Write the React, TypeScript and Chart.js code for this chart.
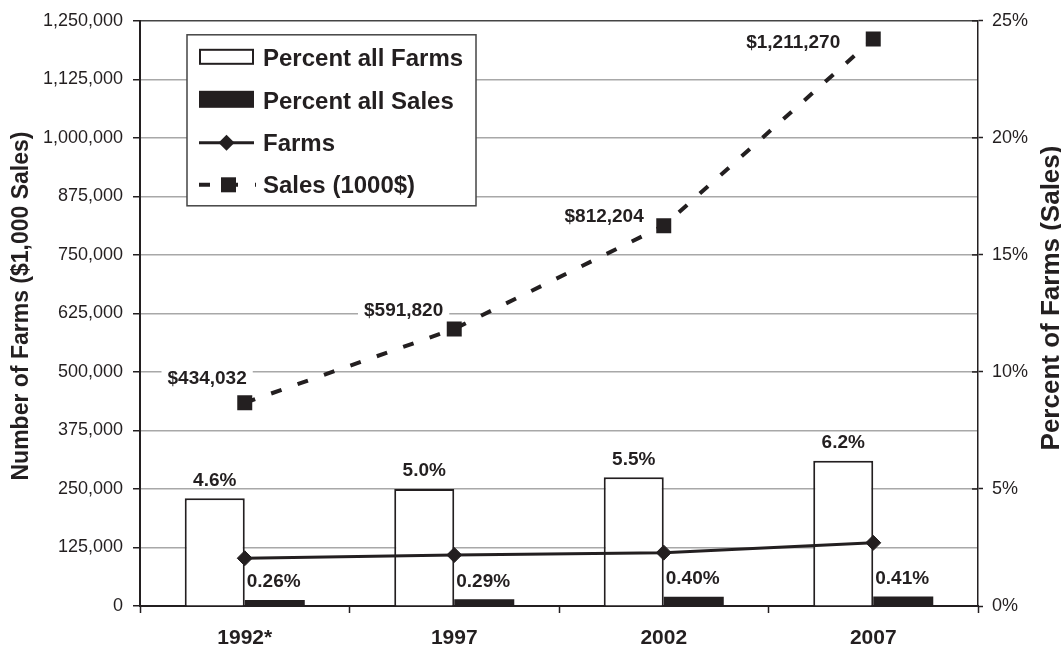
import React, { useEffect, useRef } from 'react';
import { Chart, registerables } from 'chart.js';

Chart.register(...registerables);

// ---------- data ----------
const categories = ['1992*', '1997', '2002', '2007'];
const percentFarms = [4.6, 5.0, 5.5, 6.2];
const percentSales = [0.26, 0.29, 0.4, 0.41];
const farms = [102000, 109000, 114000, 135000];
const sales = [434032, 591820, 812204, 1211270];

const leftMax = 1250000;
const leftStep = 125000;
const rightMax = 25;
const rightStep = 5;

// label placement for the sales values: [right edge dx from point, baseline dy from point]
const salesLabelOffsets = [
  [2, -19],
  [-11, -13],
  [-20, -4],
  [-33, 9],
];

const FONT = '"Liberation Sans", Arial, Helvetica, sans-serif';
const INK = '#231f20';
const GRID = '#a8a8a8';

const overlay = {
  id: 'overlay',
  afterDatasetsDraw(chart: any) {
    const ctx = chart.ctx as CanvasRenderingContext2D;
    const area = chart.chartArea;
    ctx.save();

    // inner tick marks on right axis
    const y1 = chart.scales.y1;
    ctx.strokeStyle = INK;
    ctx.lineWidth = 1.5;
    y1.ticks.forEach((t: any) => {
      const py = y1.getPixelForValue(t.value);
      ctx.beginPath();
      ctx.moveTo(area.right - 6, py);
      ctx.lineTo(area.right, py);
      ctx.stroke();
    });

    // bar value labels
    ctx.fillStyle = INK;
    ctx.font = `bold 19px ${FONT}`;
    ctx.textBaseline = 'alphabetic';
    const m0 = chart.getDatasetMeta(0);
    m0.data.forEach((bar: any, i: number) => {
      ctx.textAlign = 'center';
      ctx.fillText(percentFarms[i].toFixed(1) + '%', bar.x, bar.y - 12.5);
    });
    const m1 = chart.getDatasetMeta(1);
    m1.data.forEach((bar: any, i: number) => {
      ctx.textAlign = 'left';
      ctx.fillText(percentSales[i].toFixed(2) + '%', bar.x - bar.width / 2 + 2, bar.y - 12.5);
    });

    // sales value labels with white background
    const m3 = chart.getDatasetMeta(3);
    m3.data.forEach((pt: any, i: number) => {
      const text = '$' + sales[i].toLocaleString('en-US');
      const w = ctx.measureText(text).width;
      const right = pt.x + salesLabelOffsets[i][0];
      const base = pt.y + salesLabelOffsets[i][1];
      ctx.fillStyle = '#fff';
      ctx.fillRect(right - w - 6, base - 16, w + 12, 21);
      ctx.fillStyle = INK;
      ctx.textAlign = 'right';
      ctx.fillText(text, right, base);
    });

    // legend
    const L = { x: area.left + 47, y: area.top + 14, w: 289, h: 171 };
    ctx.fillStyle = '#fff';
    ctx.fillRect(L.x, L.y, L.w, L.h);
    ctx.strokeStyle = '#444';
    ctx.lineWidth = 1.5;
    ctx.strokeRect(L.x, L.y, L.w, L.h);
    const sx0 = L.x + 12;
    const sw = 55;
    const tx = L.x + 76;

    // row 1: white box
    ctx.strokeStyle = INK;
    ctx.lineWidth = 2;
    ctx.fillStyle = '#fff';
    ctx.fillRect(sx0, L.y + 14, sw, 16);
    ctx.strokeRect(sx0 + 1, L.y + 15, sw - 2, 14);
    // row 2: black box
    ctx.fillStyle = INK;
    ctx.fillRect(sx0, L.y + 56, sw, 17);
    // row 3: line + diamond
    const r3 = L.y + 108;
    ctx.lineWidth = 3;
    ctx.beginPath();
    ctx.moveTo(sx0, r3);
    ctx.lineTo(sx0 + sw, r3);
    ctx.stroke();
    const dcx = sx0 + 27.5;
    ctx.beginPath();
    ctx.moveTo(dcx - 8, r3);
    ctx.lineTo(dcx, r3 - 8);
    ctx.lineTo(dcx + 8, r3);
    ctx.lineTo(dcx, r3 + 8);
    ctx.closePath();
    ctx.fill();
    // row 4: dashed line + square
    const r4 = L.y + 150;
    ctx.lineWidth = 4;
    ctx.setLineDash([11, 17]);
    ctx.beginPath();
    ctx.moveTo(sx0, r4);
    ctx.lineTo(sx0 + 57, r4);
    ctx.stroke();
    ctx.setLineDash([]);
    ctx.fillRect(sx0 + 22, r4 - 7.5, 15, 15);

    ctx.font = `bold 24px ${FONT}`;
    ctx.textAlign = 'left';
    ctx.fillStyle = INK;
    const labels = ['Percent all Farms', 'Percent all Sales', 'Farms', 'Sales (1000$)'];
    const baselines = [31, 74, 116, 158];
    labels.forEach((t, i) => ctx.fillText(t, tx, L.y + baselines[i]));

    ctx.restore();
  },
  afterDraw(chart: any) {
    const ctx = chart.ctx as CanvasRenderingContext2D;
    ctx.save();
    ctx.fillStyle = INK;
    ctx.textAlign = 'center';
    ctx.textBaseline = 'alphabetic';

    ctx.save();
    ctx.translate(28, 306);
    ctx.rotate(-Math.PI / 2);
    ctx.font = `bold 23px ${FONT}`;
    ctx.fillText('Number of Farms ($1,000 Sales)', 0, 0);
    ctx.restore();

    ctx.save();
    ctx.translate(1059, 298);
    ctx.rotate(-Math.PI / 2);
    ctx.font = `bold 26px ${FONT}`;
    ctx.fillText('Percent of Farms (Sales)', 0, 0);
    ctx.restore();

    ctx.restore();
  },
};

export default function App() {
  const ref = useRef<HTMLCanvasElement>(null);

  useEffect(() => {
    document.body.style.margin = '0';
    Chart.defaults.font.family = FONT;
    Chart.defaults.color = INK;
    const canvas = ref.current!;
    const chart = new Chart(canvas, {
      type: 'bar',
      data: {
        labels: categories,
        datasets: [
          {
            type: 'bar',
            label: 'Percent all Farms',
            data: percentFarms,
            yAxisID: 'y1',
            backgroundColor: '#ffffff',
            borderColor: INK,
            borderWidth: 2,
            categoryPercentage: 0.573,
            barPercentage: 1,
            order: 2,
          } as any,
          {
            type: 'bar',
            label: 'Percent all Sales',
            data: percentSales,
            yAxisID: 'y1',
            backgroundColor: INK,
            borderWidth: 0,
            categoryPercentage: 0.573,
            barPercentage: 1,
            order: 2,
          } as any,
          {
            type: 'line',
            label: 'Farms',
            data: farms,
            yAxisID: 'y',
            borderColor: INK,
            borderWidth: 3,
            pointStyle: 'rectRot',
            pointRadius: 7.5,
            pointBackgroundColor: INK,
            pointBorderColor: INK,
            pointBorderWidth: 1,
            tension: 0,
            order: 1,
          } as any,
          {
            type: 'line',
            label: 'Sales (1000$)',
            data: sales,
            yAxisID: 'y',
            borderColor: INK,
            borderWidth: 4,
            borderDash: [11, 17],
            pointStyle: 'rect',
            pointRadius: 10.6,
            pointBackgroundColor: INK,
            pointBorderWidth: 0,
            tension: 0,
            order: 0,
          } as any,
        ],
      },
      options: {
        responsive: false,
        animation: false,
        devicePixelRatio: 1,
        layout: { padding: { top: 20, left: 0, right: 0, bottom: 0 } },
        plugins: {
          legend: { display: false },
          tooltip: { enabled: false },
        },
        scales: {
          x: {
            type: 'category',
            offset: true,
            grid: {
              offset: true,
              drawOnChartArea: false,
              tickLength: 7,
              tickColor: INK,
              tickWidth: 1.5,
              color: INK,
            },
            border: { color: INK, width: 2 },
            ticks: {
              color: INK,
              font: { family: FONT, size: 21, weight: 'bold' },
              padding: 13,
              maxRotation: 0,
              autoSkip: false,
            },
            afterFit: (s: any) => {
              s.height = 42;
            },
          },
          y: {
            position: 'left',
            min: 0,
            max: leftMax,
            ticks: {
              stepSize: leftStep,
              color: INK,
              font: { family: FONT, size: 18 },
              padding: 10,
              autoSkip: false,
              callback: (v: any) => Number(v).toLocaleString('en-US'),
            },
            grid: {
              color: (c: any) =>
                c.tick && c.tick.value === leftMax ? '#444' : c.tick && c.tick.value === 0 ? INK : GRID,
              lineWidth: 1.5,
              tickColor: INK,
              tickLength: 7,
              tickWidth: 1.5,
            },
            border: { color: INK, width: 2 },
            afterFit: (s: any) => {
              s.width = 140;
            },
          },
          y1: {
            position: 'right',
            min: 0,
            max: rightMax,
            ticks: {
              stepSize: rightStep,
              color: INK,
              font: { family: FONT, size: 18 },
              padding: 9,
              callback: (v: any) => v + '%',
            },
            grid: {
              drawOnChartArea: false,
              tickLength: 5,
              tickColor: INK,
              tickWidth: 1.5,
            },
            border: { color: INK, width: 1.5 },
            afterFit: (s: any) => {
              s.width = 83;
            },
          },
        },
      } as any,
      plugins: [overlay],
    });
    return () => chart.destroy();
  }, []);

  return (
    <div style={{ width: 1061, height: 648 }}>
      <canvas ref={ref} width={1061} height={648} style={{ display: 'block' }} />
    </div>
  );
}
